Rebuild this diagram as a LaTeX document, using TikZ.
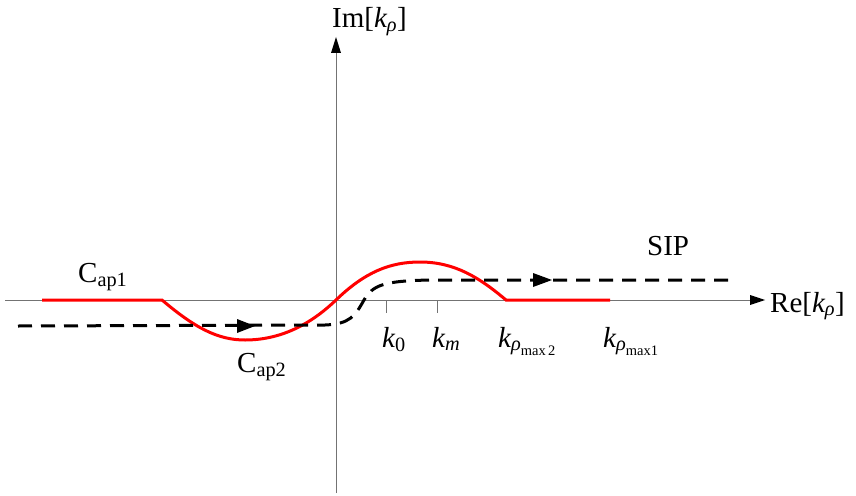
\documentclass[tikz,border=0pt]{standalone}
\usepackage{amsmath}
\usepackage{fontspec}
\setmainfont{Liberation Serif}
\newcommand{\kk}{\textit{k}}
\newcommand{\rr}{\textit{ρ}}
\begin{document}
\begin{tikzpicture}[x=1pt,y=-1pt,
  axis/.style={draw=black!55,line width=1pt},
  tip/.style={fill=black},
  redc/.style={draw=red,line width=3pt},
  dashc/.style={draw=black,line width=3pt,dash pattern=on 14pt off 9pt},
  lab/.style={anchor=base west,inner sep=0pt,font=\fontsize{29}{34}\selectfont}]
\useasboundingbox (0,0) rectangle (856,495);
% axes
\coordinate (xa) at (5,300);
\coordinate (xb) at (752,300);
\coordinate (ya) at (336,493);
\coordinate (yb) at (336,52);
\draw[axis] (xa) -- (xb);
\draw[axis] (ya) -- (yb);
\fill[tip] (750,295) -- (765,300) -- (750,305) -- cycle;
\fill[tip] (331,53) -- (336,37) -- (341,53) -- cycle;
% ticks
\draw[axis] (386,300) -- (386,313);
\draw[axis] (437,300) -- (437,313);
% red contour
\draw[redc] (42,300) -- (162,300) .. controls (195,328) and (218,340) .. (245,340)
  .. controls (280,340) and (310,325) .. (336,300)
  .. controls (365,272) and (390,262) .. (420,262)
  .. controls (455,262) and (480,278) .. (506,300) -- (610,300);
% dashed SIP
\draw[dashc] (18,326) -- (325,325) .. controls (350,324) and (355,316) .. (364,300)
  .. controls (373,285) and (383,281) .. (430,280) -- (735,280);
\fill[tip] (237,319) -- (255,326) -- (237,333) -- cycle;
\fill[tip] (533,273) -- (552,280) -- (533,287) -- cycle;
% labels
\node[lab] (im) at (332,28) {Im[$\kk_{\rr}$]};
\node[lab] (re) at (770,312) {Re[$\kk_{\rr}$]};
\node[lab] (sip) at (647,255) {SIP};
\node[lab] (c1) at (78,282) {C$_{\text{ap1}}$};
\node[lab] (c2) at (237,372) {C$_{\text{ap2}}$};
\node[lab] (k0) at (382,347) {$\kk_{\text{0}}$};
\node[lab] (km) at (432,347) {$\kk_{\textit{m}}$};
\node[lab] (k2) at (498,347) {$\kk_{\rr_{\text{max\,2}}}$};
\node[lab] (k1) at (603,347) {$\kk_{\rr_{\text{max1}}}$};
\end{tikzpicture}
\end{document}
